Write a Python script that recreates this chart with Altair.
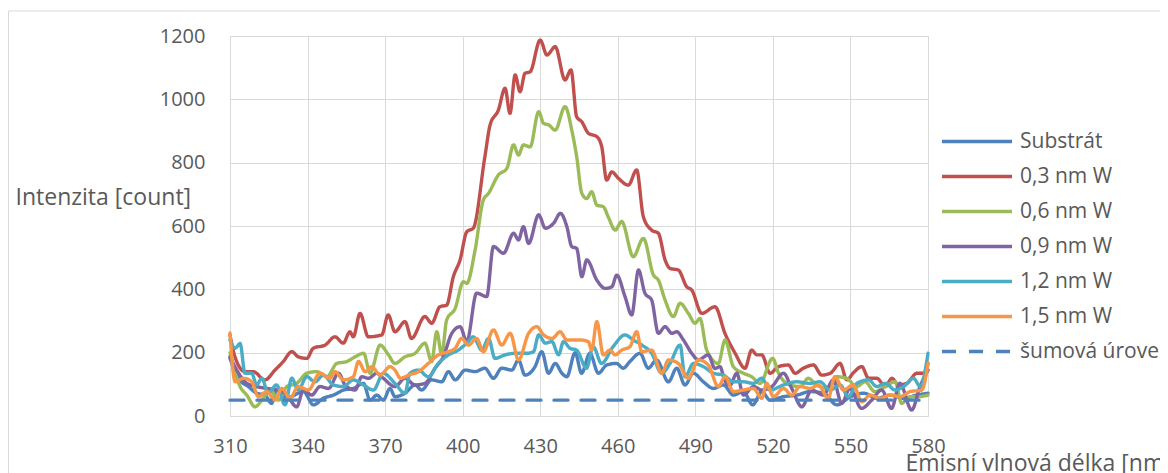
import altair as alt
import pandas as pd

# ---- data ----
series_names = ["Substrát", "0,3 nm W", "0,6 nm W", "0,9 nm W", "1,2 nm W", "1,5 nm W", "šumová úroveň"]
series_colors = ["#4F81BD", "#C0504D", "#9BBB59", "#8064A2", "#4BACC6", "#F79646", "#4F81BD"]
x_ticks = [310, 340, 370, 400, 430, 460, 490, 520, 550, 580]
y_ticks = [0, 200, 400, 600, 800, 1000, 1200]

wl_sub = [310, 313.2, 317.1, 320.3, 323.5, 326.1, 328, 331.9, 336.4, 338.4, 342.3, 346.1, 350, 353.9, 357.7, 361.6,
          364.2, 366.8, 369.3, 371.9, 373.8, 377.7, 381.6, 384.1, 388, 391.9, 394.5, 397.1, 401, 404.8, 408.6, 411.9,
          415.1, 419, 421.6, 424.1, 428, 430.6, 433.2, 435.8, 438.4, 440.3, 443.5, 446, 449.2, 452.5, 455.7, 459.5,
          462.1, 464.7, 468.6, 471.8, 475, 479.6, 482.8, 486, 489.2, 493.1, 497, 500.9, 504.7, 508.6, 512.2, 515.7,
          518.9, 524.1, 529.3, 534.4, 539.6, 544.8, 550, 555.1, 560.3, 565.4, 570.6, 575.7, 580]
val_sub = [182, 119, 93, 72, 66, 40, 82, 56, 72, 77, 35, 56, 66, 82, 87, 103,
           50, 66, 50, 87, 61, 72, 98, 82, 114, 108, 140, 114, 145, 140, 151, 119,
           151, 145, 177, 129, 156, 203, 135, 166, 135, 124, 200, 135, 198, 135, 161, 166,
           151, 172, 198, 151, 177, 108, 151, 98, 135, 108, 87, 98, 66, 77, 35, 77,
           50, 61, 66, 77, 72, 35, 61, 72, 56, 66, 56, 66, 72]

wl_03 = [310, 311.9, 315.8, 319, 323.5, 327.4, 330.5, 333.9, 336.4, 339.7, 342.2, 346.8, 350.6, 353.8, 356.4, 357.7,
         360.3, 363.5, 368.7, 371.2, 373.8, 377.7, 380.2, 385.4, 388, 391.2, 393.8, 396.4, 399, 401.6, 404.1, 408.6,
         410.6, 413.8, 416.4, 418.3, 420.3, 422.2, 424.1, 426.1, 430, 432.6, 435.8, 439.6, 441.9, 444.1, 446.1, 448.6,
         451.9, 453.8, 455.7, 457.7, 460.2, 464.1, 467.3, 469.9, 473.1, 475.7, 478.3, 480.2, 483.4, 486.7, 488.6,
         492.5, 497.6, 501.5, 505.4, 509.2, 511.8, 513.8, 515.7, 518.9, 522.2, 526, 528.6, 531.8, 535.7, 538.9, 542.2,
         546, 548.6, 551.2, 554.4, 557, 560.2, 563.5, 566, 568.6, 571.8, 575.7, 578.3, 580]
val_03 = [256, 187, 140, 140, 114, 145, 171, 203, 187, 182, 214, 224, 250, 230, 266, 250,
          324, 250, 256, 319, 266, 298, 245, 314, 293, 345, 350, 440, 493, 582, 593, 819,
          919, 966, 1035, 956, 1077, 1024, 1082, 1087, 1187, 1140, 1166, 1061, 1093, 945, 929, 893,
          882, 850, 745, 771, 751, 729, 777, 629, 587, 577, 493, 466, 461, 408, 398,
          324, 345, 260, 198, 151, 208, 193, 193, 135, 156, 161, 135, 151, 161, 129, 135,
          166, 114, 137, 156, 119, 119, 93, 119, 98, 103, 135, 135, 166]

wl_06 = [310, 313.9, 316.5, 319.7, 322.3, 325.5, 328.8, 332, 335.8, 339.7, 343.6, 347.5, 351.3, 355.2, 358.4, 361.7,
         364.2, 368.1, 371.3, 373.8, 377.7, 381.6, 385.4, 388, 390, 391.9, 393.8, 397.1, 400.3, 401.6, 404.8, 408,
         410, 413.8, 417.1, 419.7, 421.6, 423.5, 426.1, 429.4, 431.3, 433.3, 435.8, 439.6, 442.2, 444.1, 446.1, 448,
         449.9, 451.9, 454.4, 456.3, 459, 461.5, 466, 469.9, 473.8, 475.7, 478.3, 481.5, 484.1, 487.3, 489.9, 491.8,
         494.4, 498.9, 501.5, 504.7, 508.6, 511.8, 515, 519.9, 522.2, 526.6, 530.5, 533.7, 536.9, 540.8, 544.6, 548.5,
         552.4, 555.6, 559.5, 563.4, 567.3, 569.8, 573.1, 576.3, 580]
val_06 = [200, 93, 66, 29, 50, 82, 50, 93, 103, 135, 140, 124, 166, 172, 187, 198,
          135, 224, 193, 166, 187, 198, 230, 172, 266, 193, 303, 340, 424, 419, 524, 682,
          703, 761, 782, 856, 824, 856, 850, 961, 924, 919, 903, 977, 903, 819, 703, 687,
          708, 666, 661, 629, 587, 614, 503, 561, 445, 429, 366, 314, 356, 324, 293, 308,
          208, 166, 240, 156, 135, 124, 103, 182, 135, 98, 93, 119, 98, 87, 124, 119,
          93, 108, 77, 93, 108, 40, 61, 61, 66]

wl_09 = [310, 312.6, 316.5, 320.3, 324.2, 328.8, 332, 335.8, 338.4, 341.6, 344.8, 348.1, 352, 354.5, 358.4, 361,
         363.5, 366.8, 369.3, 373.8, 377.7, 381.6, 385.4, 389.3, 392.5, 395.8, 399, 401.6, 405.4, 409.3, 411.9, 415.8,
         419.7, 421.6, 423.5, 425.5, 429.4, 432, 435.2, 437.8, 440.3, 442.2, 444.1, 446.1, 448, 451.9, 455.1, 457.7,
         459.6, 462.8, 465.4, 468, 470.5, 473.1, 475.7, 478.3, 480.9, 482.8, 485.4, 488.6, 491.2, 495, 497.6, 499.5,
         501.5, 503.5, 506, 508.6, 512.5, 515.7, 519.6, 524.1, 527.3, 531.2, 535, 539.5, 543.4, 546.6, 549.8, 554.3,
         558.2, 562.1, 565.9, 569.1, 573.7, 576.9, 580]
val_09 = [187, 145, 103, 93, 87, 82, 66, 29, 82, 66, 93, 87, 135, 98, 82, 124,
          119, 135, 119, 93, 119, 98, 103, 151, 187, 261, 282, 235, 388, 377, 535, 514,
          577, 556, 598, 545, 635, 593, 609, 640, 598, 535, 529, 440, 493, 429, 403, 408,
          445, 377, 319, 461, 388, 366, 261, 282, 261, 266, 240, 198, 177, 193, 150, 156,
          110, 98, 135, 66, 93, 82, 93, 135, 87, 29, 82, 66, 114, 40, 87, 24,
          50, 82, 24, 103, 19, 93, 145]

wl_12 = [310, 312, 313.9, 315.8, 318.4, 320.3, 322.3, 324.8, 328, 331.3, 333.9, 336.4, 339.7, 342.9, 346.1, 350,
         353.8, 357.7, 361.6, 365.5, 369.3, 373.8, 377.7, 379.6, 382.9, 386.7, 390.6, 394.5, 398.3, 401.6, 404.1, 407.4,
         410, 412.5, 416.4, 420.3, 424.8, 427.4, 429.4, 432, 434.5, 437.1, 439, 441.5, 444.1, 447.9, 450.5, 453.7,
         458.2, 462.8, 466, 469.3, 473.1, 477, 480.2, 484.1, 486, 489.3, 493.1, 497, 500.9, 504.8, 508.6, 512.5,
         515.7, 518.9, 524.1, 529.2, 534.4, 538.2, 542.1, 546, 549.2, 552.5, 557, 560.2, 563.5, 567.3, 570.6, 574.4,
         577, 580]
val_12 = [240, 214, 229, 135, 135, 98, 119, 72, 98, 35, 119, 82, 124, 108, 129, 98,
          93, 114, 98, 82, 135, 103, 72, 135, 145, 124, 166, 193, 208, 230, 250, 208,
          245, 182, 193, 198, 198, 203, 256, 230, 235, 193, 235, 214, 208, 151, 219, 166,
          219, 256, 240, 224, 198, 135, 166, 224, 124, 166, 156, 135, 129, 108, 108, 103,
          119, 82, 98, 108, 103, 108, 82, 98, 61, 103, 114, 93, 103, 82, 93, 119,
          93, 198]

wl_15 = [310, 312, 315.2, 318.4, 321, 324.2, 327.4, 330, 333.2, 336.4, 340.3, 344.8, 348.7, 350.6, 353.9, 357.7,
         359.7, 362.3, 364.8, 368.1, 371.9, 373.8, 376, 379, 382.9, 386.7, 390.6, 394.5, 397.1, 399.6, 402.2, 405.4,
         408, 411.9, 415.1, 418.4, 421.6, 425.5, 428.7, 431.3, 434.6, 437.7, 440.3, 445.4, 448.6, 449.9, 451.9, 454.4,
         457, 459, 461.5, 464.7, 467.3, 469.3, 473.1, 477, 479.6, 483.4, 487.3, 491.2, 495, 498.9, 501.5, 504.7,
         508.6, 512.5, 515.7, 517.6, 520.2, 524.1, 527.3, 530.5, 534.4, 537.6, 541.4, 544, 547.3, 551.1, 554.4, 557.6,
         561.5, 565.4, 569.2, 573.1, 577.6, 580]
val_15 = [262, 108, 119, 108, 61, 77, 50, 87, 56, 93, 82, 135, 119, 140, 114, 124,
          172, 140, 156, 129, 156, 145, 119, 129, 140, 166, 193, 203, 214, 245, 224, 245,
          203, 272, 224, 261, 177, 261, 282, 256, 245, 266, 240, 240, 235, 208, 298, 193,
          208, 193, 208, 219, 266, 203, 208, 135, 177, 166, 119, 177, 161, 93, 124, 77,
          82, 87, 56, 103, 61, 87, 66, 93, 87, 98, 56, 124, 82, 98, 45, 66,
          56, 66, 61, 77, 82, 166]

wl_noise = [310, 580]
val_noise = [50, 50]

all_wl = [wl_sub, wl_03, wl_06, wl_09, wl_12, wl_15, wl_noise]
all_val = [val_sub, val_03, val_06, val_09, val_12, val_15, val_noise]

rows = []
for name, wls, vals in zip(series_names, all_wl, all_val):
    for w, v in zip(wls, vals):
        rows.append({"serie": name, "wl": w, "val": v})
df = pd.DataFrame(rows)

FONT = "Open Sans"
TXT = "#595959"
GRID = "#d9d9d9"

x_enc = alt.X("wl:Q", scale=alt.Scale(domain=[310, 580], nice=False, zero=False),
              axis=alt.Axis(values=x_ticks, format="d", grid=True, gridColor=GRID, gridWidth=1,
                            domainColor=GRID, domainWidth=1, ticks=False,
                            labelFontSize=20, labelColor=TXT, labelFont=FONT, labelPadding=20,
                            labelFlush=False,
                            title="Emisní vlnová délka [nm]", titleFont=FONT, titleFontSize=23,
                            titleFontWeight="normal", titleColor=TXT, titleAlign="left",
                            titleBaseline="alphabetic", titleX=675, titleY=54))
y_enc = alt.Y("val:Q", scale=alt.Scale(domain=[0, 1200], nice=False),
              axis=alt.Axis(values=y_ticks, format="d", grid=True, gridColor=GRID, gridWidth=1,
                            domainColor=GRID, domainWidth=1, ticks=False,
                            labelFontSize=20, labelColor=TXT, labelFont=FONT, labelPadding=25,
                            labelFlush=False,
                            title="Intenzita [count]", titleFont=FONT, titleFontSize=23,
                            titleFontWeight="normal", titleColor=TXT, titleAngle=0,
                            titleAlign="left", titleBaseline="alphabetic", titleX=-215, titleY=168))

lines = alt.Chart(df).mark_line(strokeWidth=3.4, interpolate="monotone", strokeCap="round").encode(
    x=x_enc,
    y=y_enc,
    color=alt.Color("serie:N", scale=alt.Scale(domain=series_names, range=series_colors),
                    sort=series_names,
                    legend=alt.Legend(title=None, orient="none", legendX=710, legendY=88,
                                      symbolType="stroke", symbolSize=4900, symbolStrokeWidth=3.5,
                                      labelFont=FONT, labelFontSize=21, labelColor=TXT,
                                      labelOffset=6, rowPadding=0, clipHeight=35, padding=0,
                                      labelLimit=300)),
    strokeDash=alt.StrokeDash("serie:N",
                              scale=alt.Scale(domain=series_names,
                                              range=[[1, 0]] * 6 + [[14, 13]]),
                              sort=series_names, legend=alt.Legend(title=None)),
    detail="serie:N",
)

border_df = pd.DataFrame({"k": [0]})
border = alt.Chart(border_df).mark_rect(filled=False, stroke=GRID, strokeWidth=1).encode(
    x=alt.value(-221.5), x2=alt.value(1000), y=alt.value(-25), y2=alt.value(500)
)

chart = alt.layer(border, lines).properties(
    width=698, height=380,
    padding={"left": 222, "top": 28, "right": 232, "bottom": 57},
    autosize=alt.AutoSizeParams(type="none"),
).configure_view(stroke="transparent").configure(font=FONT)

chart.save("out.html", embed_options={"renderer": "svg", "actions": False})
